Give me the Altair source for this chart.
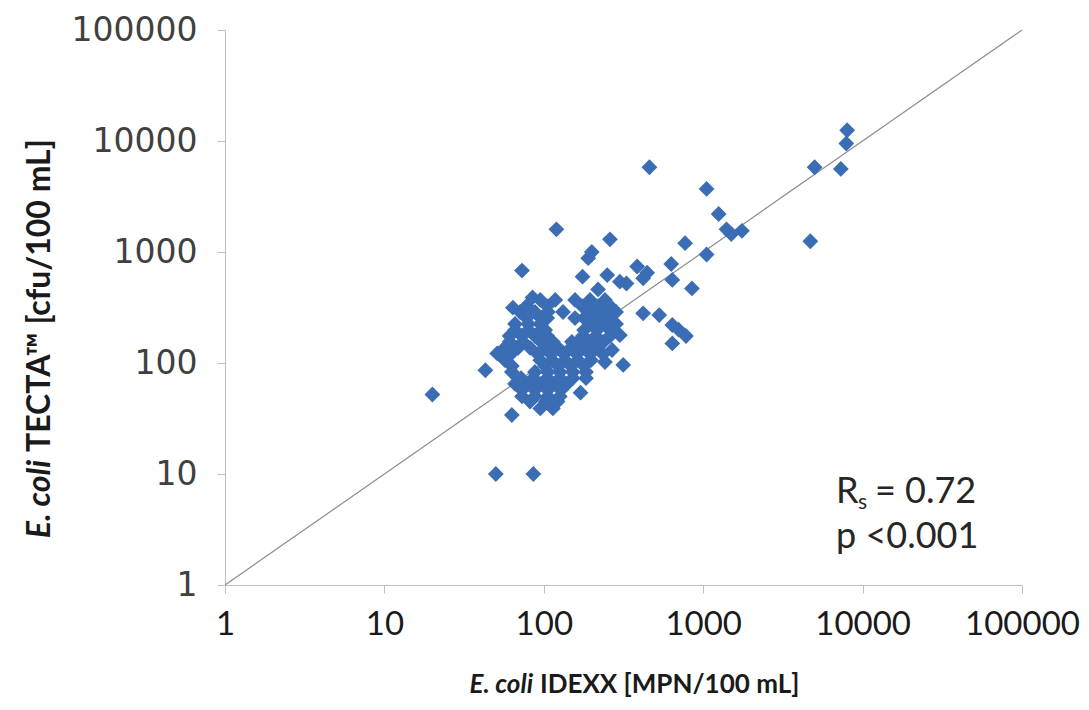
import altair as alt
import pandas as pd

# IDEXX (x) and TECTA (y) values
# scattered points
idexx_out = [20, 50, 86, 43, 51, 63, 73, 85, 64, 120, 170, 315,
             260, 200, 190, 175, 250, 300, 385, 420, 445, 330, 219, 420, 460,
             1050, 1250, 1400, 1500, 1750, 770, 1050, 630, 640, 850,
             640, 700, 780, 640, 530,
             8000, 7900, 5000, 7300, 4700]
tecta_out = [52, 10, 10, 86, 122, 34, 680, 390, 315, 1600, 54, 96,
             1300, 1000, 880, 600, 620, 540, 740, 580, 650, 520, 460, 280, 5800,
             3700, 2200, 1600, 1450, 1550, 1200, 950, 780, 560, 470,
             220, 200, 175, 150, 270,
             12500, 9500, 5800, 5600, 1250]
# dense central cluster
idexx_blob = [95, 118, 157, 195, 242,
              71, 88, 106, 195, 235, 284,
              66, 80, 95, 195, 235, 284,
              61, 73, 88, 105, 176, 212, 260,
              57, 69, 82, 102, 123, 148, 179, 216,
              57, 95, 113, 136, 164, 198,
              63, 88, 106, 126, 152, 184,
              66, 80, 96, 116, 140,
              73, 88, 106, 126,
              95, 114,
              78, 105, 174, 216, 260,
              78, 96, 179, 216, 260,
              66, 80, 96, 179, 216, 260,
              61, 74, 96, 114, 164, 198, 237,
              62, 92, 111, 134, 161, 195, 235,
              63, 102, 123, 148, 179,
              72, 86, 105, 126, 152, 184,
              73, 88, 106, 128,
              82, 103, 122,
              105, 157, 132, 150, 102, 268, 242, 300]
tecta_blob = [370, 370, 370, 370, 370,
              288, 288, 288, 288, 288, 288,
              225, 225, 225, 225, 225, 225,
              175, 175, 175, 175, 175, 175, 175,
              137, 137, 137, 137, 137, 137, 137, 137,
              106, 106, 106, 106, 106, 106,
              83, 83, 83, 83, 83, 83,
              65, 65, 65, 65, 65,
              50, 50, 50, 50,
              39, 39,
              326, 326, 326, 326, 326,
              254, 254, 254, 254, 254,
              198, 198, 198, 198, 198, 198,
              155, 155, 155, 155, 155, 155, 155,
              120, 120, 120, 120, 120, 120, 120,
              94, 94, 94, 94, 94,
              73, 73, 73, 73, 73, 73,
              57, 57, 57, 57,
              45, 45, 45,
              254, 254, 288, 155, 198, 131, 102, 178]

ticks = [1, 10, 100, 1000, 10000, 100000]
line_x = [1, 100000]
line_y = [1, 100000]

pts = pd.DataFrame({"x": idexx_out + idexx_blob, "y": tecta_out + tecta_blob})
diag = pd.DataFrame({"x": line_x, "y": line_y})

W, H = 797, 555
xs = alt.Scale(type="log", domain=[1, 100000], nice=False)
ys = alt.Scale(type="log", domain=[1, 100000], nice=False)

xaxis = alt.Axis(values=ticks, format="d", title=None, grid=False,
                 domainColor="#bfbfbf", tickColor="#bfbfbf", tickSize=8,
                 labelFont="Lato", labelFontSize=33, labelColor="#1a1a1a",
                 labelPadding=15, labelFlush=False, labelOverlap=False)
yaxis = alt.Axis(values=ticks, format="d", title=None, grid=False,
                 domainColor="#bfbfbf", tickColor="#bfbfbf", tickSize=8,
                 labelFont="DejaVu Sans", labelFontSize=33, labelColor="#404040",
                 labelPadding=20, labelFlush=False, labelOverlap=False)

line = alt.Chart(diag).mark_line(color="#8c8c8c", strokeWidth=1.2).encode(
    x=alt.X("x:Q", scale=xs, axis=xaxis),
    y=alt.Y("y:Q", scale=ys, axis=yaxis),
)

points = alt.Chart(pts).mark_point(shape="diamond", filled=True, size=250,
                                   color="#3b6db4", opacity=1).encode(
    x=alt.X("x:Q", scale=xs),
    y=alt.Y("y:Q", scale=ys),
)

def txt(s, x, y, size=32, bold=True, italic=False, align="left", angle=0, color="#1a1a1a"):
    kw = dict(text=s, font="Lato", fontSize=size, align=align, baseline="middle",
              color=color, fontWeight="bold" if bold else "normal",
              fontStyle="italic" if italic else "normal")
    if angle:
        kw["angle"] = angle
    return alt.Chart(pd.DataFrame({"t": [s]})).mark_text(**kw).encode(
        x=alt.value(x), y=alt.value(y))

annot = [
    txt("E. coli", 308, 655, size=26, italic=True, align="right"),
    txt("IDEXX [MPN/100 mL]", 315, 655, size=26, align="left"),
    txt("E. coli", -185, 430, italic=True, align="right", angle=270),
    txt("TECTA™ [cfu/100 mL]", -185, 422, align="left", angle=270),
    txt("R", 611, 462, size=36, bold=False, color="#262626"),
    txt("s", 633, 473, size=21, bold=False, color="#262626"),
    txt("= 0.72", 650, 462, size=36, bold=False, color="#262626"),
    txt("p <0.001", 611, 507, size=36, bold=False, color="#262626"),
]

chart = alt.layer(line, points, *annot).properties(
    width=W, height=H,
    autosize=alt.AutoSizeParams(type="none"),
    padding={"left": 217, "top": 22, "right": 59, "bottom": 114},
).configure_view(stroke=None)

chart.save("out.html", embed_options={"renderer": "svg", "actions": False})
